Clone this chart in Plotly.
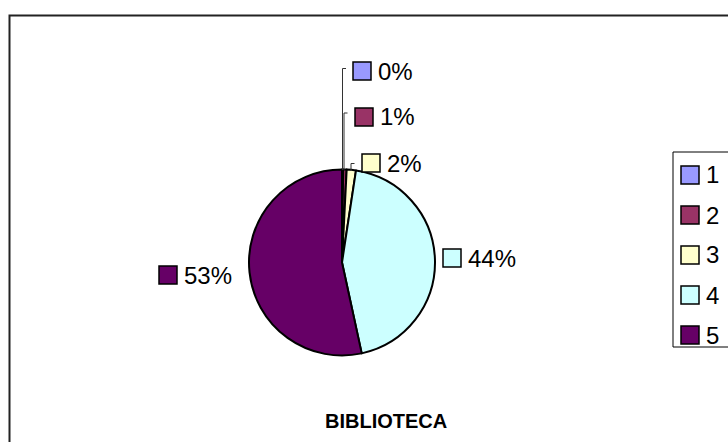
import plotly.graph_objects as go

# ---- data ----
categories = ["1", "2", "3", "4", "5"]
values = [0.2, 0.6, 1.6, 44.2, 53.4]
colors = ["#9999FF", "#993366", "#FFFFCC", "#CCFFFF", "#660066"]
title_text = "BIBLIOTECA"

W, H = 728, 442
total = sum(values)
pct_labels = [f"{round(v / total * 100)}%" for v in values]


def px(x):
    return x / W


def py(y):
    return 1 - y / H


FONT = "Liberation Sans, Arial, sans-serif"

# pie geometry (pixels)
cx, cy, r = 342, 262.5, 93

fig = go.Figure(go.Pie(
    labels=categories,
    values=values,
    marker=dict(colors=colors, line=dict(color="black", width=2)),
    sort=False,
    direction="clockwise",
    rotation=0,
    textinfo="none",
    hoverinfo="label+percent",
    showlegend=False,
    domain=dict(x=[px(cx - r), px(cx + r)], y=[py(cy + r), py(cy - r)]),
))

shapes = []
annotations = []

# outer chart-area border
shapes.append(dict(type="rect", xref="paper", yref="paper",
                   x0=px(9.5), x1=1.05, y0=-0.05, y1=py(15.5),
                   line=dict(color="#222222", width=2), fillcolor="rgba(0,0,0,0)"))

# data labels: (square left, square top, text left, text center y)
label_pos = [
    (353, 62, 376, 71),
    (355, 108, 378, 117),
    (362, 154, 385, 163),
    (443, 249, 466, 258),
    (159, 266, 182, 275),
]
SQ = 18
for i, (sx, sy, tx, ty) in enumerate(label_pos):
    shapes.append(dict(type="rect", xref="paper", yref="paper",
                       x0=px(sx), x1=px(sx + SQ), y0=py(sy + SQ), y1=py(sy),
                       fillcolor=colors[i], line=dict(color="black", width=1.5)))
    annotations.append(dict(xref="paper", yref="paper", x=px(tx), y=py(ty),
                            text=pct_labels[i], showarrow=False,
                            xanchor="left", yanchor="middle",
                            font=dict(family=FONT, size=24, color="black")))

# leader lines for small slices: (x vertical, y top, y bottom)
leaders = [(342.5, 68.5, 170), (344, 113, 170), (351, 163.5, 171)]
for lx, ly0, ly1 in leaders:
    shapes.append(dict(type="line", xref="paper", yref="paper",
                       x0=px(lx), x1=px(lx), y0=py(ly0), y1=py(ly1),
                       line=dict(color="#333333", width=1)))
    shapes.append(dict(type="line", xref="paper", yref="paper",
                       x0=px(lx), x1=px(lx + 3.5), y0=py(ly0), y1=py(ly0),
                       line=dict(color="#333333", width=1)))

# legend box
shapes.append(dict(type="rect", xref="paper", yref="paper",
                   x0=px(673), x1=1.05, y0=py(347), y1=py(152),
                   line=dict(color="black", width=1), fillcolor="rgba(0,0,0,0)"))
legend_y = [175, 215, 255, 295, 335]
for i, ly in enumerate(legend_y):
    shapes.append(dict(type="rect", xref="paper", yref="paper",
                       x0=px(681), x1=px(681 + SQ), y0=py(ly + SQ / 2), y1=py(ly - SQ / 2),
                       fillcolor=colors[i], line=dict(color="black", width=1.5)))
    annotations.append(dict(xref="paper", yref="paper", x=px(704), y=py(ly),
                            text=categories[i], showarrow=False,
                            xanchor="left", yanchor="middle",
                            font=dict(family=FONT, size=24, color="black")))

# title
annotations.append(dict(xref="paper", yref="paper", x=px(386), y=py(421),
                        text=f"<b>{title_text}</b>", showarrow=False,
                        xanchor="center", yanchor="middle",
                        font=dict(family=FONT, size=20, color="black")))

fig.update_layout(
    width=W, height=H,
    margin=dict(l=0, r=0, t=0, b=0),
    paper_bgcolor="white",
    plot_bgcolor="white",
    shapes=shapes,
    annotations=annotations,
    showlegend=False,
)

fig.write_html("out.html",
               config={"displayModeBar": False},
               post_script="document.body.style.margin='0';document.body.style.padding='0';")
